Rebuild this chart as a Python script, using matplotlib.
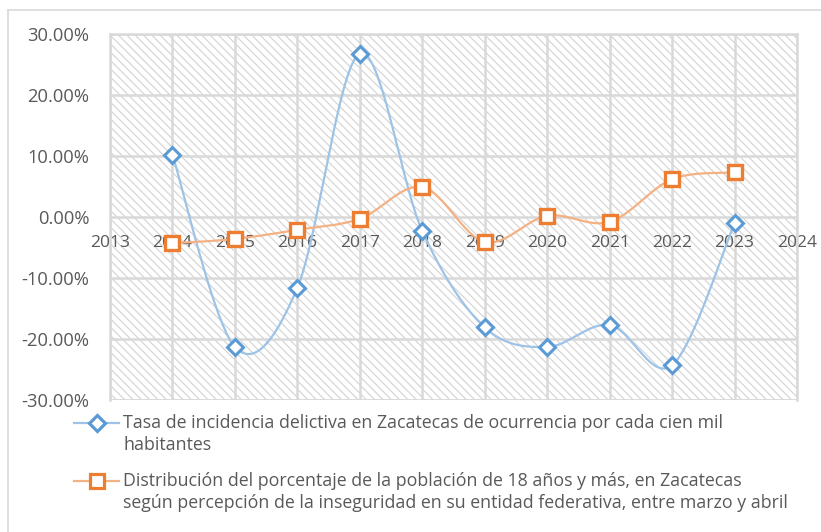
import numpy as np
import matplotlib
matplotlib.use("Agg")
import matplotlib.pyplot as plt
from matplotlib.patches import Rectangle
from matplotlib.lines import Line2D

plt.rcParams['font.family'] = ['Open Sans', 'DejaVu Sans']
plt.rcParams['hatch.linewidth'] = 0.8

years = [2014, 2015, 2016, 2017, 2018, 2019, 2020, 2021, 2022, 2023]
tasa = [10.2, -21.3, -11.6, 26.8, -2.3, -18.1, -21.3, -17.7, -24.3, -1.0]
percepcion = [-4.3, -3.6, -2.1, -0.3, 4.9, -4.1, 0.2, -0.8, 6.2, 7.3]
xticks = list(range(2013, 2025))
yticks = [-30, -20, -10, 0, 10, 20, 30]
label_tasa = "Tasa de incidencia delictiva en Zacatecas de ocurrencia por cada cien mil\nhabitantes"
label_perc = ("Distribución del porcentaje de la población de 18 años y más, en Zacatecas\n"
              "según percepción de la inseguridad en su entidad federativa, entre marzo y abril")

GRID = '#d9d9d9'
TXT = '#595959'
BLUE = '#5b9bd5'
BLUE_L = '#9dc3e6'
ORANGE = '#ed7d31'
ORANGE_L = '#f4b183'


def smooth(xs, ys, n=40):
    P = np.column_stack([xs, ys]).astype(float)
    P = np.vstack([P[0], P, P[-1]])
    out = []
    for i in range(1, len(P) - 2):
        p0, p1, p2, p3 = P[i - 1], P[i], P[i + 1], P[i + 2]
        c1 = p1 + (p2 - p0) / 6.0
        c2 = p2 - (p3 - p1) / 6.0
        t = np.linspace(0, 1, n)[:, None]
        seg = ((1 - t) ** 3) * p1 + 3 * ((1 - t) ** 2) * t * c1 + 3 * (1 - t) * t ** 2 * c2 + t ** 3 * p2
        out.append(seg if i == 1 else seg[1:])
    S = np.vstack(out)
    return S[:, 0], S[:, 1]


fig = plt.figure(figsize=(8.21, 5.32), dpi=100)
W, H = 821, 532
ax = fig.add_axes([110 / W, 1 - 400 / H, (797 - 110) / W, (400 - 34) / H])

ax.set_xlim(2013, 2024)
ax.set_ylim(-30, 30)

bg = Rectangle((0, 0), 1, 1, transform=ax.transAxes, facecolor='white',
               edgecolor='#d3d3d3', linewidth=0, hatch='\\\\\\\\', zorder=0)
ax.add_patch(bg)
ax.patch.set_visible(False)

ax.set_xticks(xticks)
ax.set_yticks(yticks)
ax.grid(True, color=GRID, linewidth=1.8, zorder=1)
ax.set_axisbelow(True)
for s in ax.spines.values():
    s.set_color(GRID)
    s.set_linewidth(1.8)
ax.spines['bottom'].set_position(('data', 0))
ax.spines['bottom'].set_visible(False)
ax.tick_params(axis='both', length=0, labelcolor=TXT)
ax.tick_params(axis='x', pad=13, labelsize=12.5)
ax.tick_params(axis='y', pad=15, labelsize=13.2)
ax.set_yticklabels([f"{v:.2f}%" for v in yticks])
ax.set_xticklabels([str(x) for x in xticks])

# plot area bottom border
ax.axhline(-30, color=GRID, linewidth=1.8, zorder=1)

sx, sy = smooth(years, tasa)
ax.plot(sx, sy, color=BLUE_L, linewidth=1.6, zorder=3)
ax.plot(years, tasa, linestyle='none', marker='D', markersize=8.5,
        markerfacecolor='white', markeredgecolor=BLUE, markeredgewidth=2.2, zorder=4)

ox, oy = smooth(years, percepcion)
ax.plot(ox, oy, color=ORANGE_L, linewidth=1.6, zorder=3)
ax.plot(years, percepcion, linestyle='none', marker='s', markersize=10,
        markerfacecolor='white', markeredgecolor=ORANGE, markeredgewidth=2.4, zorder=4)

# outer chart border
fig.add_artist(Line2D([8 / W, 8 / W], [0, 1 - 10 / H], color='#d9d9d9', linewidth=1.2))
fig.add_artist(Line2D([8 / W, 1], [1 - 10 / H, 1 - 10 / H], color='#d9d9d9', linewidth=1.2))

# legend
def legend_entry(y_px, color_l, color_m, marker, ms, text):
    y = 1 - y_px / H
    fig.add_artist(Line2D([74 / W, 119 / W], [y, y], color=color_l, linewidth=1.6))
    fig.add_artist(Line2D([96.5 / W], [y], marker=marker, markersize=ms, markerfacecolor='white',
                          markeredgecolor=color_m, markeredgewidth=2.3, linestyle='none'))
    fig.text(123 / W, y + 8.5 / H, text, fontsize=12.8, color=TXT, ha='left', va='top',
             linespacing=1.3)

legend_entry(422.5, BLUE_L, BLUE, 'D', 8.5, label_tasa)
legend_entry(480.5, ORANGE_L, ORANGE, 's', 10, label_perc)

fig.savefig('out.png', dpi=100)
